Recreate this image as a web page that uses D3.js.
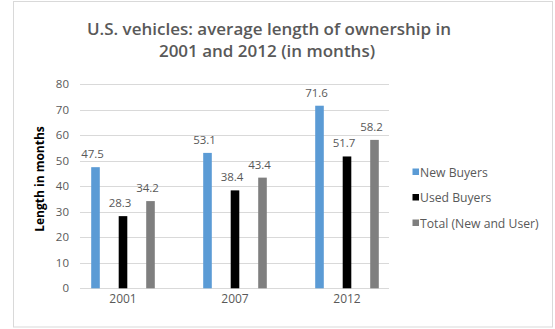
<!DOCTYPE html>
<html>
<head>
<meta charset="utf-8">
<script src="https://cdn.jsdelivr.net/npm/d3@7"></script>
<style>
  html, body { margin: 0; padding: 0; background: #fff; }
  svg { display: block; font-family: "Open Sans", "Noto Sans", sans-serif; }
</style>
</head>
<body>
<svg id="chart" width="555" height="329"></svg>
<script>
// Average length of U.S. vehicle ownership, in months
const years = ["2001", "2007", "2012"];
const seriesNames = ["New Buyers", "Used Buyers", "Total (New and User)"];
const newBuyers = [47.5, 53.1, 71.6];
const usedBuyers = [28.3, 38.4, 51.7];
const totalBuyers = [34.2, 43.4, 58.2];
const yTicks = [0, 10, 20, 30, 40, 50, 60, 70, 80];
const seriesColors = ["#5b9bd5", "#000000", "#7f7f7f"];

const seriesValues = [newBuyers, usedBuyers, totalBuyers];
const rows = years.flatMap((yr, i) =>
  seriesNames.map((s, j) => ({ year: yr, series: s, value: seriesValues[j][i], color: seriesColors[j] })));

const svg = d3.select("#chart");

// chart frame
svg.append("rect")
  .attr("x", 13.5).attr("y", 1.5).attr("width", 539).attr("height", 325.5)
  .attr("fill", "#fff").attr("stroke", "#d9d9d9").attr("stroke-width", 1);

const plotLeft = 80, plotRight = 389;
const y = d3.scaleLinear().domain([0, 80]).range([288.3, 84.3]);
const x0 = d3.scaleBand().domain(years).range([67, 403]);
const x1 = d3.scalePoint().domain(seriesNames).range([-27.5, 27.5]);
const barW = 8.6;

// title
const title = svg.append("text")
  .attr("text-anchor", "middle")
  .attr("fill", "#595959")
  .attr("font-weight", 600)
  .attr("font-size", 17);
title.append("tspan").attr("x", 269).attr("y", 34.5).text("U.S. vehicles: average length of ownership in");
title.append("tspan").attr("x", 267).attr("y", 57).text("2001 and 2012 (in months)");

// gridlines
svg.append("g")
  .selectAll("line")
  .data(yTicks)
  .join("line")
  .attr("x1", plotLeft).attr("x2", plotRight)
  .attr("y1", d => Math.round(y(d)) + 0.5).attr("y2", d => Math.round(y(d)) + 0.5)
  .attr("stroke", "#d9d9d9").attr("stroke-width", 1);

// y axis labels
const yAxis = svg.append("g")
  .attr("transform", "translate(69,0)")
  .call(d3.axisLeft(y).tickValues(yTicks).tickSize(0).tickPadding(0).tickFormat(d3.format("d")));
yAxis.select(".domain").remove();
yAxis.selectAll("text").attr("fill", "#595959").attr("font-size", 11.5)
  .attr("font-family", "'Open Sans', sans-serif");

// x axis labels
const xAxis = svg.append("g")
  .attr("transform", "translate(0,292)")
  .call(d3.axisBottom(x0).tickSize(0).tickPadding(0));
xAxis.select(".domain").remove();
xAxis.selectAll("text").attr("fill", "#595959").attr("font-size", 12)
  .attr("font-family", "'Open Sans', sans-serif").attr("dy", "0.9em");

// y axis title
svg.append("text")
  .attr("transform", "translate(44,179) rotate(-90)")
  .attr("text-anchor", "middle")
  .attr("font-weight", 700)
  .attr("font-size", 12)
  .attr("fill", "#000")
  .text("Length in months");

// bars
const cx = d => x0(d.year) + x0.bandwidth() / 2 + x1(d.series);
svg.append("g")
  .selectAll("rect")
  .data(rows)
  .join("rect")
  .attr("x", d => cx(d) - barW / 2)
  .attr("width", barW)
  .attr("y", d => y(d.value))
  .attr("height", d => y(0) - y(d.value))
  .attr("fill", d => d.color);

// value labels
svg.append("g")
  .selectAll("text")
  .data(rows)
  .join("text")
  .attr("x", d => cx(d) - 3)
  .attr("y", d => y(d.value) - 9)
  .attr("text-anchor", "middle")
  .attr("fill", "#595959")
  .attr("font-size", 11.5)
  .text(d => d.value.toFixed(1));

// legend
const legend = svg.append("g")
  .selectAll("g")
  .data(seriesNames)
  .join("g")
  .attr("transform", (d, i) => `translate(412.5,${168.5 + i * 25.5})`);
legend.append("rect")
  .attr("width", 6.5).attr("height", 6.5)
  .attr("fill", (d, i) => seriesColors[i]);
legend.append("text")
  .attr("x", 7.5).attr("y", 8)
  .attr("fill", "#595959")
  .attr("font-size", 12.2)
  .text(d => d);
</script>
</body>
</html>
